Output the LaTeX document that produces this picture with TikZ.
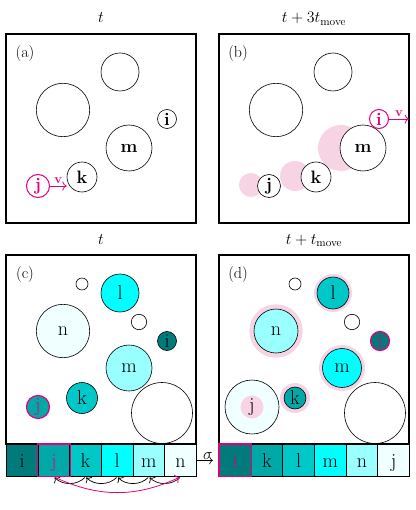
\documentclass[tikz,border=0pt]{standalone}
\usepackage{fix-cm}
\usetikzlibrary{arrows.meta}
\definecolor{mag}{RGB}{228,0,124}
\definecolor{halo}{RGB}{247,212,228}
\definecolor{tealA}{RGB}{0,122,122}
\definecolor{tealB}{RGB}{0,168,168}
\definecolor{tealC}{RGB}{0,200,200}
\definecolor{cyanD}{RGB}{0,255,255}
\definecolor{cyanE}{RGB}{153,255,255}
\definecolor{cyanF}{RGB}{240,255,255}

\begin{document}
\begin{tikzpicture}[x=1pt, y=-1pt, >={To[scale=1.3]},
    box/.style={draw, line width=1.2pt},
    ring/.style={line width=0.6pt},
    disc/.style={circle, draw, line width=0.6pt, inner sep=0pt, fill=white},
    tag/.style={font=\fontsize{16}{19}\selectfont},
    heavy/.style={font=\fontsize{18}{22}\selectfont\bfseries},
    letter/.style={font=\fontsize{20}{24}\selectfont},
    vlab/.style={font=\fontsize{13}{15}\selectfont\bfseries, text=mag, inner sep=2pt},
    vel/.style={->, draw=mag, line width=0.8pt},
    cell/.style={draw, line width=0.8pt, minimum width=31.67pt, minimum height=32pt,
      inner sep=0pt, text height=14pt, text depth=0pt, anchor=north west,
      font=\fontsize{20}{24}\selectfont},
    swap/.style={->, line width=0.7pt, bend left=45, shorten >=1pt, shorten <=1pt}]
  \useasboundingbox (0,0) rectangle (415,510);

  % (a): j heading for k at time t
  \begin{scope}[shift={(6,34)}]
    \draw[box] (0,0) rectangle (190,189);
    \node[tag, anchor=base] (a-time) at (95,-11) {$t$};
    \node[tag] (a-tag) at (19,20) {(a)};
    % obstacles
    \draw[ring] (114,38) circle[radius=19];
    \draw[ring] (57,76) circle[radius=26.7];
    % particles
    \node[disc, heavy, minimum size=19pt] (a-i) at (161,85) {i};
    \node[disc, heavy, minimum size=46pt] (a-m) at (123,114) {m};
    \node[disc, heavy, minimum size=30pt] (a-k) at (76,143) {k};
    \node[disc, heavy, minimum size=23pt, draw=mag, text=mag, line width=1pt] (a-j) at (32,152) {j};
    \draw[vel] (a-j.east) -- node[above, vlab] {v} (a-j.east -| a-k.west);
  \end{scope}

  % (b): the chain has pushed through to i
  \begin{scope}[shift={(219,34)}]
    \draw[box] (0,0) rectangle (190,189);
    \node[tag, anchor=base] (b-time) at (95,-11) {$t+3t_{\mathrm{move}}$};
    \node[tag] (b-tag) at (19,20) {(b)};
    % old places
    \fill[halo] (32,151) circle[radius=12];
    \fill[halo] (76,142) circle[radius=15];
    \fill[halo] (122,114) circle[radius=23];
    \draw[ring] (114,38) circle[radius=19];
    \draw[ring] (57,76) circle[radius=26.7];
    \node[disc, heavy, minimum size=46pt] (b-m) at (144,114) {m};
    \node[disc, heavy, minimum size=30pt] (b-k) at (97,143) {k};
    \node[disc, heavy, minimum size=23pt] (b-j) at (50,152) {j};
    \node[disc, heavy, minimum size=19pt, draw=mag, text=mag, line width=1pt] (b-i) at (160,85) {i};
    \coordinate (b-out) at (190,85);
    \draw[vel] (b-i) -- node[above, vlab] {v} (b-out);
  \end{scope}

  % (c): colour by size, list before the move
  \begin{scope}[shift={(6,255)}]
    \draw[box] (0,0) rectangle (190,189);
    \node[tag, anchor=base] (c-time) at (95,-11) {$t$};
    \node[tag] (c-tag) at (19,20) {(c)};
    \draw[ring] (76,29) circle[radius=6];
    \draw[ring] (133,67) circle[radius=7.7];
    \draw[ring] (156,158) circle[radius=30.5];
    \node[disc, letter, fill=cyanD, minimum size=38pt] (c-l) at (114,38) {l};
    \node[disc, letter, fill=cyanF, minimum size=53.4pt] (c-n) at (57,76) {n};
    \node[disc, letter, fill=tealA, minimum size=19pt] (c-i) at (161,86) {i};
    \node[disc, letter, fill=cyanE, minimum size=46pt] (c-m) at (123,113) {m};
    \node[disc, letter, fill=tealC, minimum size=31pt] (c-k) at (76,143) {k};
    \node[disc, letter, fill=tealB, minimum size=23pt, draw=mag, text=mag, line width=1.2pt] (c-j) at (32,152) {j};
    % list of sizes
    \foreach \n/\c/\t [count=\k from 0] in {i/tealA/black, j/tealB/mag, k/tealC/black,
        l/cyanD/black, m/cyanE/black, n/cyanF/black}
      \node[cell, fill=\c, text=\t] (ca-\n) at (\k*31.67,189) {\n};
    \draw[mag, line width=1.2pt] (ca-j.north west) rectangle (ca-j.south east);
    \foreach \p/\q in {n/m, m/l, l/k, k/j}
      \draw[swap] (ca-\p.south) to (ca-\q.south);
    \draw[->, mag, line width=0.8pt, bend right=25, shorten >=1pt, shorten <=1pt] (ca-j.south) to (ca-n.south);
  \end{scope}

  % (d): one move later
  \begin{scope}[shift={(219,255)}]
    \draw[box] (0,0) rectangle (190,189);
    \node[tag, anchor=base] (d-time) at (95,-11) {$t+t_{\mathrm{move}}$};
    \node[tag] (d-tag) at (19,20) {(d)};
    \draw[ring] (76,29) circle[radius=6];
    \draw[ring] (133,67) circle[radius=7.7];
    \draw[ring] (156,158) circle[radius=30.5];
    % halos keep the old sizes
    \fill[halo] (114,38) circle[radius=19];
    \fill[halo] (57,76) circle[radius=26.7];
    \fill[halo] (123,113) circle[radius=23];
    \fill[halo] (76,143) circle[radius=15];
    \node[disc, letter, fill=tealC, minimum size=32pt] (d-l) at (114,38) {l};
    \node[disc, letter, fill=cyanE, minimum size=44pt] (d-n) at (57,76) {n};
    \node[disc, letter, fill=tealA, minimum size=19pt, draw=mag, text=mag, line width=1.2pt] (d-i) at (161,86) {i};
    \node[disc, letter, fill=cyanD, minimum size=39pt] (d-m) at (123,113) {m};
    \node[disc, letter, fill=tealB, minimum size=22pt] (d-k) at (76,143) {k};
    \filldraw[ring, fill=cyanF] (33,152) circle[radius=27];
    \node[circle, letter, fill=halo, inner sep=0pt, minimum size=23pt] (d-j) at (33,152) {j};
    \foreach \n/\c/\t [count=\k from 0] in {i/tealA/mag, k/tealB/black, l/tealC/black,
        m/cyanD/black, n/cyanE/black, j/cyanF/black}
      \node[cell, fill=\c, text=\t] (da-\n) at (\k*31.67,189) {\n};
    \draw[mag, line width=1.2pt] (da-i.north west) rectangle (da-i.south east);
  \end{scope}

  % reorder step
  \draw[->, line width=0.6pt, shorten >=6pt] (ca-n.east) -- node[tag, above, inner sep=1pt] (sigma) {$\sigma$} (da-i.west);
\end{tikzpicture}
\end{document}
